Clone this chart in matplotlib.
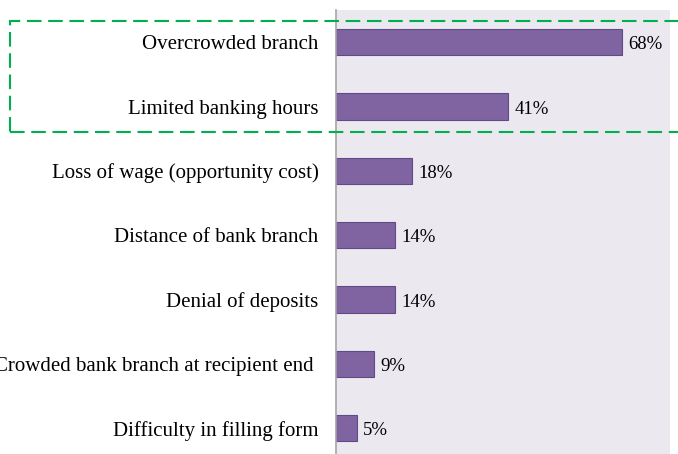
import matplotlib.pyplot as plt
import matplotlib.patches as mpatches
import matplotlib
matplotlib.rcParams.update({'font.family': 'Liberation Serif', 'font.size': 15})

reasons = ['Overcrowded branch', 'Limited banking hours', 'Loss of wage (opportunity cost)',
           'Distance of bank branch', 'Denial of deposits',
           'Crowded bank branch at recipient end ', 'Difficulty in filling form']
shares = [68, 41, 18, 14, 14, 9, 5]

fig = plt.figure(figsize=(6.78, 4.54), dpi=100)
ax = fig.add_axes([336/678, 0, (670-336)/678, 1 - 10/454])
ax.set_facecolor('#EBE9EF')

pos = list(range(len(reasons)))
ax.barh(pos, shares, height=0.41, color='#8064A2', edgecolor='#5E4A86', linewidth=0.8)
for y, v in zip(pos, shares):
    ax.text(v + 1.5, y + 0.04, '{}%'.format(v), va='center', ha='left', fontsize=13.5)

ax.set_xlim(0, 79.5)
ax.set_ylim(6.4, -0.5)
ax.set_yticks(pos)
ax.set_yticklabels(reasons)
ax.tick_params(axis='y', length=0, pad=12.5)
ax.set_xticks([])
for side in ['top', 'right', 'bottom']:
    ax.spines[side].set_visible(False)
ax.spines['left'].set_color('#A6A6A6')
ax.spines['left'].set_linewidth(1.2)

# highlight box round the two leading reasons
box = mpatches.Rectangle((10/678, 1 - 132/454), 1.0, (132-21)/454, transform=fig.transFigure,
                         fill=False, edgecolor='#00B050', linewidth=1.5, linestyle=(0, (7, 3.2)),
                         clip_on=False)
fig.patches.append(box)

plt.savefig('out.png', dpi=100)
